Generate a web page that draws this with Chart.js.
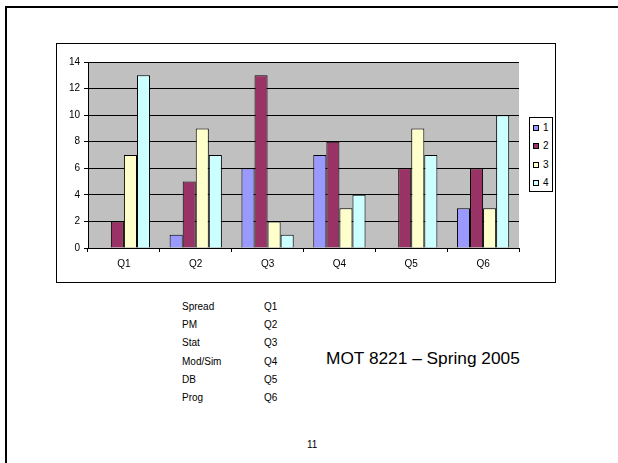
<!DOCTYPE html>
<html>
<head>
<meta charset="utf-8">
<script src="https://cdn.jsdelivr.net/npm/chart.js@4/dist/chart.umd.min.js"></script>
<style>
  html, body { margin: 0; padding: 0; background: #fff; }
  body { width: 618px; height: 463px; position: relative; overflow: hidden;
         font-family: "Liberation Sans", Arial, sans-serif; color: #000; }
  .frame { position: absolute; left: 5px; top: 6px; width: 700px; height: 600px;
           border-left: 2px solid #000; border-top: 2px solid #000; }
  .chartbox { position: absolute; left: 56px; top: 43px; width: 500px; height: 240px;
              border: 1px solid #000; box-sizing: border-box; }
  #cv { position: absolute; left: 57px; top: 44px; }
  .legend { position: absolute; left: 529px; top: 117px; width: 24px; height: 75px;
            border: 1px solid #000; box-sizing: border-box; background: #fff; }
  .legend .item { position: absolute; left: 3px; height: 12px; font-size: 10px; line-height: 12px; }
  .legend .sw { position: absolute; left: 0; top: 3px; width: 6px; height: 6px;
                border: 1px solid #000; box-sizing: border-box; }
  .legend .lb { position: absolute; left: 10px; top: 0; }
  .list { position: absolute; font-size: 10px; line-height: 18.2px; }
  .title { position: absolute; left: 326px; top: 348px; font-size: 17.3px; white-space: nowrap; }
  .page { position: absolute; left: 307px; top: 439px; font-size: 10px; }
</style>
</head>
<body>
<div class="frame"></div>
<div class="chartbox"></div>
<canvas id="cv" width="498" height="238"></canvas>
<div class="legend" id="legend"></div>
<div class="list" id="names" style="left:182px; top:298px;"></div>
<div class="list" id="codes" style="left:264px; top:298px;"></div>
<div class="title">MOT 8221 – Spring 2005</div>
<div class="page">11</div>
<script>
// Survey results per question
const categories = ['Q1', 'Q2', 'Q3', 'Q4', 'Q5', 'Q6'];
const seriesNames = ['1', '2', '3', '4'];
const series1 = [0, 1, 6, 7, 0, 3];
const series2 = [2, 5, 13, 8, 6, 6];
const series3 = [7, 9, 2, 3, 9, 3];
const series4 = [13, 7, 1, 4, 7, 10];
const seriesColors = ['#9999FF', '#993366', '#FFFFCC', '#CCFFFF'];
const yTicks = [0, 2, 4, 6, 8, 10, 12, 14];

// Key for the question codes
const topicNames = ['Spread', 'PM', 'Stat', 'Mod/Sim', 'DB', 'Prog'];

const allSeries = [series1, series2, series3, series4];

document.getElementById('names').innerHTML = topicNames.map(t => '<div>' + t + '</div>').join('');
document.getElementById('codes').innerHTML = categories.map(t => '<div>' + t + '</div>').join('');

const legend = document.getElementById('legend');
seriesNames.forEach((name, i) => {
  const item = document.createElement('div');
  item.className = 'item';
  item.style.top = (4 + i * 18.3) + 'px';
  item.innerHTML = '<span class="sw" style="background:' + seriesColors[i] + '"></span><span class="lb">' + name + '</span>';
  legend.appendChild(item);
});

// Gray plot background
const plotBackground = {
  id: 'plotBackground',
  beforeDraw(chart) {
    const a = chart.chartArea;
    const ctx = chart.ctx;
    ctx.save();
    ctx.fillStyle = '#C0C0C0';
    ctx.fillRect(a.left, a.top, a.right - a.left, a.bottom - a.top);
    ctx.restore();
  }
};

const font = { family: '"Liberation Sans", Arial, sans-serif', size: 10 };

new Chart(document.getElementById('cv'), {
  type: 'bar',
  data: {
    labels: categories,
    datasets: allSeries.map((vals, i) => ({
      label: seriesNames[i],
      data: vals,
      backgroundColor: seriesColors[i],
      borderColor: '#000',
      borderWidth: 1,
      categoryPercentage: 4 / 5.5,
      barPercentage: 1
    }))
  },
  options: {
    responsive: false,
    animation: false,
    devicePixelRatio: 1,
    layout: { padding: { left: 0, top: 18, right: 36, bottom: 0 } },
    plugins: { legend: { display: false }, tooltip: { enabled: false } },
    scales: {
      x: {
        offset: true,
        grid: { offset: true, drawOnChartArea: false, drawTicks: true, tickLength: 4, color: '#000' },
        border: { color: '#000', width: 1 },
        ticks: { color: '#000', font: font, padding: 6, maxRotation: 0 },
        afterFit(scale) { scale.height = 34; }
      },
      y: {
        min: 0,
        max: 14,
        afterBuildTicks(scale) { scale.ticks = yTicks.map(v => ({ value: v })); },
        grid: { color: '#000', lineWidth: 1, drawTicks: true, tickLength: 4 },
        border: { color: '#000', width: 1 },
        ticks: { color: '#000', font: font, padding: 4 },
        afterFit(scale) { scale.width = 31; }
      }
    }
  },
  plugins: [plotBackground]
});
</script>
</body>
</html>
